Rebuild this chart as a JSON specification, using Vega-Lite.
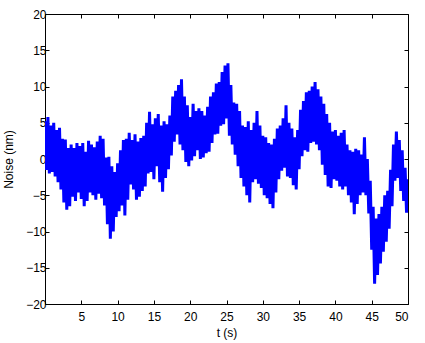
{
  "$schema": "https://vega.github.io/schema/vega-lite/v6.json",
  "autosize": {"type": "none"},
  "padding": {"left": 45, "top": 14, "right": 17, "bottom": 39},
  "width": 363,
  "height": 290,
  "background": "white",
  "config": {
    "view": {"stroke": "black", "strokeWidth": 1},
    "axis": {
      "labelFont": "Liberation Sans", "labelFontSize": 12, "labelColor": "black",
      "titleFont": "Liberation Sans", "titleFontSize": 12, "titleFontWeight": "normal", "titleColor": "black",
      "domainColor": "black", "tickColor": "black", "grid": false, "tickSize": -4
    }
  },
  "data": {"values": [
    {"t":0.0,"v":5.2},{"t":0.2,"v":-1.5},{"t":0.4,"v":5.8},{"t":0.6,"v":-2.0},{"t":0.8,"v":4.6},{"t":1.0,"v":-1.8},{"t":1.2,"v":5.0},{"t":1.4,"v":-2.4},{"t":1.6,"v":4.0},{"t":1.8,"v":-3.2},
    {"t":2.0,"v":4.3},{"t":2.2,"v":-4.2},{"t":2.4,"v":2.8},{"t":2.6,"v":-6.0},{"t":2.8,"v":2.7},{"t":3.0,"v":-7.0},{"t":3.2,"v":1.5},{"t":3.4,"v":-6.5},{"t":3.6,"v":2.0},{"t":3.8,"v":-5.2},
    {"t":4.0,"v":1.5},{"t":4.2,"v":-5.8},{"t":4.4,"v":2.2},{"t":4.6,"v":-4.6},{"t":4.8,"v":1.8},{"t":5.0,"v":-5.5},{"t":5.2,"v":2.2},{"t":5.4,"v":-6.5},{"t":5.6,"v":1.0},{"t":5.8,"v":-5.8},
    {"t":6.0,"v":2.5},{"t":6.2,"v":-4.6},{"t":6.4,"v":2.0},{"t":6.6,"v":-5.0},{"t":6.8,"v":1.6},{"t":7.0,"v":-5.6},{"t":7.2,"v":2.4},{"t":7.4,"v":-4.8},{"t":7.6,"v":3.2},{"t":7.8,"v":-5.4},
    {"t":8.0,"v":2.8},{"t":8.2,"v":-6.4},{"t":8.4,"v":0.2},{"t":8.6,"v":-9.0},{"t":8.8,"v":0.3},{"t":9.0,"v":-11.0},{"t":9.2,"v":-1.0},{"t":9.4,"v":-10.0},{"t":9.6,"v":-1.8},{"t":9.8,"v":-8.0},
    {"t":10.0,"v":-0.6},{"t":10.2,"v":-7.2},{"t":10.4,"v":1.2},{"t":10.6,"v":-6.4},{"t":10.8,"v":2.6},{"t":11.0,"v":-7.8},{"t":11.2,"v":2.8},{"t":11.4,"v":-5.6},{"t":11.6,"v":3.6},{"t":11.8,"v":-3.5},
    {"t":12.0,"v":2.6},{"t":12.2,"v":-4.2},{"t":12.4,"v":3.4},{"t":12.6,"v":-5.6},{"t":12.8,"v":2.4},{"t":13.0,"v":-5.2},{"t":13.2,"v":2.9},{"t":13.4,"v":-4.4},{"t":13.6,"v":3.2},{"t":13.8,"v":-3.8},
    {"t":14.0,"v":5.0},{"t":14.2,"v":-2.0},{"t":14.4,"v":6.5},{"t":14.6,"v":-1.8},{"t":14.8,"v":4.8},{"t":15.0,"v":-2.8},{"t":15.2,"v":5.6},{"t":15.4,"v":-1.0},{"t":15.6,"v":6.2},{"t":15.8,"v":-3.2},
    {"t":16.0,"v":4.6},{"t":16.2,"v":-4.5},{"t":16.4,"v":5.2},{"t":16.6,"v":-2.6},{"t":16.8,"v":4.8},{"t":17.0,"v":-1.4},{"t":17.2,"v":6.0},{"t":17.4,"v":0.5},{"t":17.6,"v":8.6},{"t":17.8,"v":2.4},
    {"t":18.0,"v":9.4},{"t":18.2,"v":3.4},{"t":18.4,"v":10.2},{"t":18.6,"v":2.0},{"t":18.8,"v":11.0},{"t":19.0,"v":1.2},{"t":19.2,"v":8.6},{"t":19.4,"v":-0.4},{"t":19.6,"v":7.4},{"t":19.8,"v":-1.0},
    {"t":20.0,"v":5.8},{"t":20.2,"v":-0.2},{"t":20.4,"v":7.6},{"t":20.6,"v":0.4},{"t":20.8,"v":6.6},{"t":21.0,"v":1.2},{"t":21.2,"v":7.0},{"t":21.4,"v":0.0},{"t":21.6,"v":6.6},{"t":21.8,"v":0.2},
    {"t":22.0,"v":6.0},{"t":22.2,"v":0.8},{"t":22.4,"v":7.2},{"t":22.6,"v":1.0},{"t":22.8,"v":8.6},{"t":23.0,"v":2.2},{"t":23.2,"v":9.2},{"t":23.4,"v":3.4},{"t":23.6,"v":10.4},{"t":23.8,"v":3.5},
    {"t":24.0,"v":10.6},{"t":24.2,"v":4.6},{"t":24.4,"v":12.0},{"t":24.6,"v":4.8},{"t":24.8,"v":12.9},{"t":25.0,"v":5.6},{"t":25.2,"v":13.2},{"t":25.4,"v":3.2},{"t":25.6,"v":10.2},{"t":25.8,"v":2.0},
    {"t":26.0,"v":7.8},{"t":26.2,"v":0.6},{"t":26.4,"v":7.6},{"t":26.6,"v":-1.0},{"t":26.8,"v":6.6},{"t":27.0,"v":-2.6},{"t":27.2,"v":4.6},{"t":27.4,"v":-3.8},{"t":27.6,"v":4.4},{"t":27.8,"v":-5.0},
    {"t":28.0,"v":5.2},{"t":28.2,"v":-6.0},{"t":28.4,"v":4.0},{"t":28.6,"v":-3.2},{"t":28.8,"v":5.0},{"t":29.0,"v":-2.8},{"t":29.2,"v":6.6},{"t":29.4,"v":-3.4},{"t":29.6,"v":4.6},{"t":29.8,"v":-4.0},
    {"t":30.0,"v":3.2},{"t":30.2,"v":-5.0},{"t":30.4,"v":3.0},{"t":30.6,"v":-5.4},{"t":30.8,"v":2.2},{"t":31.0,"v":-6.2},{"t":31.2,"v":2.0},{"t":31.4,"v":-6.8},{"t":31.6,"v":2.8},{"t":31.8,"v":-4.6},
    {"t":32.0,"v":4.2},{"t":32.2,"v":-2.8},{"t":32.4,"v":4.6},{"t":32.6,"v":-1.6},{"t":32.8,"v":5.6},{"t":33.0,"v":-1.2},{"t":33.2,"v":7.4},{"t":33.4,"v":-2.4},{"t":33.6,"v":5.0},{"t":33.8,"v":-2.6},
    {"t":34.0,"v":4.2},{"t":34.2,"v":-3.6},{"t":34.4,"v":3.0},{"t":34.6,"v":-4.2},{"t":34.8,"v":4.0},{"t":35.0,"v":-1.4},{"t":35.2,"v":6.8},{"t":35.4,"v":0.4},{"t":35.6,"v":8.0},{"t":35.8,"v":1.2},
    {"t":36.0,"v":9.2},{"t":36.2,"v":1.0},{"t":36.4,"v":9.4},{"t":36.6,"v":2.2},{"t":36.8,"v":10.0},{"t":37.0,"v":2.4},{"t":37.2,"v":10.6},{"t":37.4,"v":2.0},{"t":37.6,"v":9.6},{"t":37.8,"v":1.2},
    {"t":38.0,"v":8.6},{"t":38.2,"v":-0.8},{"t":38.4,"v":7.6},{"t":38.6,"v":-2.2},{"t":38.8,"v":6.2},{"t":39.0,"v":-3.8},{"t":39.2,"v":5.0},{"t":39.4,"v":-4.0},{"t":39.6,"v":3.8},{"t":39.8,"v":-2.8},
    {"t":40.0,"v":4.0},{"t":40.2,"v":-3.0},{"t":40.4,"v":3.2},{"t":40.6,"v":-3.8},{"t":40.8,"v":3.6},{"t":41.0,"v":-4.2},{"t":41.2,"v":4.0},{"t":41.4,"v":-3.8},{"t":41.6,"v":2.0},{"t":41.8,"v":-5.0},
    {"t":42.0,"v":1.2},{"t":42.2,"v":-6.0},{"t":42.4,"v":1.0},{"t":42.6,"v":-7.6},{"t":42.8,"v":1.4},{"t":43.0,"v":-6.2},{"t":43.2,"v":1.2},{"t":43.4,"v":-5.0},{"t":43.6,"v":0.6},{"t":43.8,"v":-4.6},
    {"t":44.0,"v":3.0},{"t":44.2,"v":-5.0},{"t":44.4,"v":0.0},{"t":44.6,"v":-7.5},{"t":44.8,"v":-3.0},{"t":45.0,"v":-12.5},{"t":45.2,"v":-6.6},{"t":45.4,"v":-17.2},{"t":45.6,"v":-8.2},{"t":45.8,"v":-16.0},
    {"t":46.0,"v":-7.6},{"t":46.2,"v":-14.4},{"t":46.4,"v":-6.6},{"t":46.6,"v":-12.8},{"t":46.8,"v":-5.0},{"t":47.0,"v":-11.4},{"t":47.2,"v":-4.4},{"t":47.4,"v":-9.6},{"t":47.6,"v":-1.5},{"t":47.8,"v":-6.5},
    {"t":48.0,"v":2.0},{"t":48.2,"v":-3.0},{"t":48.4,"v":3.8},{"t":48.6,"v":-2.6},{"t":48.8,"v":2.6},{"t":49.0,"v":-4.4},{"t":49.2,"v":1.2},{"t":49.4,"v":-5.8},{"t":49.6,"v":-1.2},{"t":49.8,"v":-7.4},
    {"t":50.0,"v":-2.8}
  ]},
  "layer": [
    {
      "mark": {"type": "line", "color": "#0000ff", "strokeWidth": 3, "strokeJoin": "miter", "strokeMiterLimit": 1, "clip": true},
      "encoding": {
        "x": {"field": "t", "type": "quantitative", "scale": {"domain": [0, 50], "nice": false},
              "axis": {"orient": "bottom", "values": [5,10,15,20,25,30,35,40,45,50], "title": "t (s)", "labelPadding": 11, "titlePadding": 5}},
        "y": {"field": "v", "type": "quantitative", "scale": {"domain": [-20, 20], "nice": false},
              "axis": {"orient": "left", "values": [-20,-15,-10,-5,0,5,10,15,20], "title": "Noise (nm)", "labelPadding": 3, "titlePadding": 10}}
      }
    },
    {
      "mark": {"type": "line", "opacity": 0},
      "encoding": {
        "x": {"field": "t", "type": "quantitative", "scale": {"domain": [0, 50], "nice": false},
              "axis": {"orient": "top", "values": [5,10,15,20,25,30,35,40,45], "labels": false, "title": null}},
        "y": {"field": "v", "type": "quantitative", "scale": {"domain": [-20, 20], "nice": false},
              "axis": {"orient": "right", "values": [-15,-10,-5,0,5,10,15], "labels": false, "title": null}}
      }
    }
  ],
  "resolve": {"axis": {"x": "independent", "y": "independent"}}
}
